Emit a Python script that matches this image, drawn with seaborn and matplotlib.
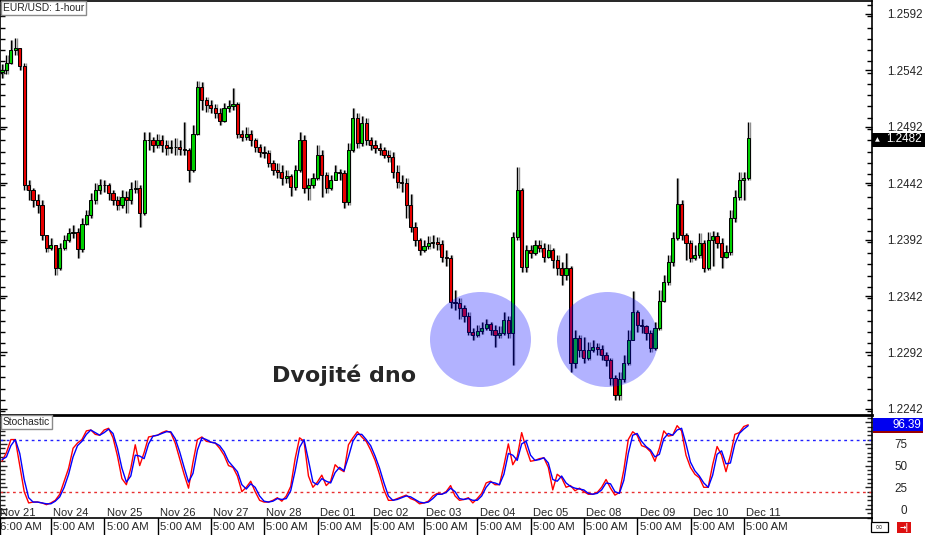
import numpy as np
import pandas as pd
import matplotlib
matplotlib.use("Agg")
import matplotlib.pyplot as plt
import seaborn as sns
from matplotlib.patches import Ellipse, Rectangle
from matplotlib.lines import Line2D
from matplotlib.ticker import MultipleLocator
from matplotlib.transforms import blended_transform_factory

# ---------------- data (EUR/USD) ----------------
first_open = 1.2541
closes = [1.2542, 1.2549, 1.2560, 1.2562, 1.2546, 1.2440, 1.2436, 1.2427, 1.2423, 1.2396,
          1.2385, 1.2387, 1.2367, 1.2385, 1.2392, 1.2398, 1.2399, 1.2384, 1.2406, 1.2414,
          1.2427, 1.2436, 1.2440, 1.2440, 1.2433, 1.2427, 1.2423, 1.2430, 1.2427, 1.2437,
          1.2438, 1.2416, 1.2480, 1.2480, 1.2476, 1.2480, 1.2476, 1.2473, 1.2474, 1.2474,
          1.2472, 1.2471, 1.2454, 1.2486, 1.2527, 1.2516, 1.2511, 1.2509, 1.2504, 1.2497,
          1.2509, 1.2510, 1.2512, 1.2486, 1.2483, 1.2486, 1.2480, 1.2474, 1.2470, 1.2469,
          1.2460, 1.2454, 1.2452, 1.2447, 1.2448, 1.2439, 1.2454, 1.2480, 1.2438, 1.2440,
          1.2447, 1.2467, 1.2449, 1.2438, 1.2445, 1.2452, 1.2451, 1.2425, 1.2471, 1.2500,
          1.2478, 1.2495, 1.2480, 1.2476, 1.2473, 1.2471, 1.2467, 1.2465, 1.2452, 1.2443,
          1.2442, 1.2423, 1.2403, 1.2392, 1.2383, 1.2386, 1.2389, 1.2390, 1.2388, 1.2377,
          1.2376, 1.2337, 1.2336, 1.2331, 1.2324, 1.2310, 1.2307, 1.2311, 1.2314, 1.2317,
          1.2312, 1.2307, 1.2309, 1.2321, 1.2309, 1.2394, 1.2436, 1.2368, 1.2383, 1.2380,
          1.2387, 1.2385, 1.2377, 1.2383, 1.2374, 1.2367, 1.2361, 1.2367, 1.2283, 1.2305,
          1.2294, 1.2287, 1.2294, 1.2297, 1.2295, 1.2290, 1.2285, 1.2269, 1.2254, 1.2268,
          1.2283, 1.2303, 1.2328, 1.2316, 1.2315, 1.2309, 1.2296, 1.2314, 1.2338, 1.2354,
          1.2372, 1.2393, 1.2424, 1.2396, 1.2389, 1.2376, 1.2378, 1.2389, 1.2367, 1.2392,
          1.2395, 1.2389, 1.2377, 1.2381, 1.2411, 1.2430, 1.2445, 1.2447, 1.2482]
highs = [1.2548, 1.2556, 1.2569, 1.2571, 1.2556, 1.2549, 1.2445, 1.2438, 1.2432, 1.2427,
         1.2396, 1.2393, 1.2387, 1.2389, 1.2396, 1.2402, 1.2405, 1.2402, 1.2411, 1.2418,
         1.2433, 1.2442, 1.2446, 1.2445, 1.2442, 1.2436, 1.2431, 1.2436, 1.2435, 1.2443,
         1.2445, 1.2440, 1.2487, 1.2487, 1.2483, 1.2486, 1.2485, 1.2480, 1.2480, 1.2482,
         1.2480, 1.2496, 1.2473, 1.2494, 1.2533, 1.2532, 1.2518, 1.2516, 1.2512, 1.2509,
         1.2513, 1.2516, 1.2526, 1.2514, 1.2489, 1.2492, 1.2489, 1.2482, 1.2477, 1.2475,
         1.2471, 1.2463, 1.2460, 1.2458, 1.2454, 1.2450, 1.2458, 1.2487, 1.2485, 1.2447,
         1.2451, 1.2476, 1.2471, 1.2452, 1.2449, 1.2458, 1.2455, 1.2454, 1.2478, 1.2509,
         1.2504, 1.2502, 1.2500, 1.2483, 1.2480, 1.2478, 1.2474, 1.2471, 1.2470, 1.2458,
         1.2449, 1.2447, 1.2432, 1.2408, 1.2393, 1.2392, 1.2395, 1.2396, 1.2394, 1.2392,
         1.2383, 1.2378, 1.2347, 1.2340, 1.2334, 1.2328, 1.2314, 1.2316, 1.2319, 1.2322,
         1.2319, 1.2316, 1.2315, 1.2328, 1.2324, 1.2399, 1.2456, 1.2438, 1.2387, 1.2387,
         1.2392, 1.2392, 1.2389, 1.2388, 1.2385, 1.2378, 1.2372, 1.2380, 1.2369, 1.2312,
         1.2307, 1.2306, 1.2301, 1.2303, 1.2300, 1.2299, 1.2292, 1.2287, 1.2272, 1.2275,
         1.2290, 1.2312, 1.2346, 1.2330, 1.2322, 1.2316, 1.2312, 1.2319, 1.2347, 1.2361,
         1.2378, 1.2399, 1.2447, 1.2427, 1.2398, 1.2392, 1.2387, 1.2398, 1.2392, 1.2399,
         1.2400, 1.2399, 1.2393, 1.2387, 1.2418, 1.2436, 1.2452, 1.2452, 1.2496]
lows = [1.2535, 1.2539, 1.2548, 1.2556, 1.2542, 1.2436, 1.2427, 1.2421, 1.2416, 1.2392,
        1.2381, 1.2383, 1.2361, 1.2365, 1.2383, 1.2390, 1.2393, 1.2376, 1.2381, 1.2405,
        1.2411, 1.2424, 1.2432, 1.2434, 1.2427, 1.2423, 1.2418, 1.2420, 1.2416, 1.2424,
        1.2433, 1.2403, 1.2414, 1.2471, 1.2470, 1.2473, 1.2470, 1.2467, 1.2469, 1.2467,
        1.2467, 1.2467, 1.2443, 1.2452, 1.2485, 1.2507, 1.2505, 1.2504, 1.2500, 1.2494,
        1.2496, 1.2505, 1.2507, 1.2482, 1.2479, 1.2480, 1.2475, 1.2470, 1.2465, 1.2464,
        1.2456, 1.2449, 1.2447, 1.2440, 1.2442, 1.2431, 1.2436, 1.2452, 1.2433, 1.2427,
        1.2438, 1.2445, 1.2430, 1.2433, 1.2436, 1.2445, 1.2445, 1.2420, 1.2423, 1.2470,
        1.2473, 1.2475, 1.2476, 1.2471, 1.2469, 1.2467, 1.2464, 1.2461, 1.2447, 1.2438,
        1.2434, 1.2411, 1.2399, 1.2386, 1.2378, 1.2381, 1.2384, 1.2385, 1.2383, 1.2372,
        1.2369, 1.2331, 1.2330, 1.2322, 1.2319, 1.2307, 1.2303, 1.2306, 1.2308, 1.2312,
        1.2307, 1.2297, 1.2305, 1.2307, 1.2305, 1.2281, 1.2392, 1.2363, 1.2363, 1.2376,
        1.2378, 1.2381, 1.2372, 1.2376, 1.2367, 1.2361, 1.2352, 1.2356, 1.2275, 1.2278,
        1.2288, 1.2283, 1.2285, 1.2292, 1.2290, 1.2285, 1.2280, 1.2263, 1.2250, 1.2250,
        1.2266, 1.2281, 1.2303, 1.2310, 1.2309, 1.2303, 1.2292, 1.2294, 1.2312, 1.2337,
        1.2352, 1.2369, 1.2392, 1.2392, 1.2374, 1.2372, 1.2374, 1.2376, 1.2363, 1.2365,
        1.2369, 1.2385, 1.2367, 1.2376, 1.2378, 1.2408, 1.2427, 1.2427, 1.2445]

stoch_k = [55, 65, 80, 80, 50, 20, 7, 8, 8, 7, 5, 7, 10, 17, 32, 47, 70, 76, 80, 90,
           91, 86, 85, 91, 93, 82, 61, 35, 28, 47, 74, 50, 65, 83, 84, 85, 88, 90, 88, 76,
           58, 40, 24, 54, 80, 83, 78, 77, 76, 70, 62, 50, 48, 38, 20, 25, 32, 20, 10, 8,
           8, 10, 13, 9, 15, 26, 58, 82, 78, 38, 25, 31, 39, 27, 32, 51, 46, 43, 74, 82,
           89, 83, 78, 68, 56, 40, 22, 10, 10, 12, 14, 16, 12, 10, 6, 7, 9, 15, 18, 17,
           20, 27, 15, 10, 11, 13, 7, 12, 18, 30, 32, 28, 28, 50, 75, 51, 60, 88, 70, 55,
           56, 58, 59, 48, 22, 40, 36, 25, 27, 21, 24, 20, 17, 17, 19, 25, 34, 24, 16, 19,
           45, 80, 89, 85, 73, 71, 66, 55, 70, 90, 84, 85, 96, 90, 62, 48, 40, 36, 25, 25,
           51, 72, 62, 43, 62, 86, 88, 95, 97]
stoch_d = [57, 60, 73, 80, 64, 34, 13, 8, 8, 7, 6, 6, 9, 14, 25, 40, 60, 73, 78, 86,
           91, 88, 85, 88, 92, 87, 70, 47, 31, 38, 62, 61, 58, 75, 84, 85, 87, 89, 89, 81,
           66, 48, 31, 41, 68, 82, 80, 77, 76, 73, 66, 55, 49, 43, 28, 23, 29, 25, 15, 9,
           8, 9, 12, 11, 12, 21, 44, 71, 80, 56, 31, 28, 35, 32, 30, 42, 48, 44, 60, 78,
           86, 86, 80, 73, 61, 47, 30, 15, 10, 11, 13, 15, 14, 11, 8, 7, 8, 12, 17, 17,
           19, 24, 20, 12, 11, 12, 10, 10, 15, 25, 31, 30, 28, 40, 64, 62, 56, 75, 78, 62,
           56, 57, 59, 53, 34, 32, 38, 30, 26, 24, 23, 22, 18, 17, 18, 22, 30, 29, 20, 18,
           33, 64, 85, 87, 78, 72, 68, 60, 63, 81, 87, 85, 91, 93, 75, 54, 44, 38, 30, 25,
           39, 63, 67, 52, 53, 75, 87, 92, 96]

price_ticks = [1.2242, 1.2292, 1.2342, 1.2392, 1.2442, 1.2492, 1.2542, 1.2592]
price_labels = ["1.2242", "1.2292", "1.2342", "1.2392", "1.2442", "1.2492", "1.2542", "1.2592"]
stoch_ticks = [0, 25, 50, 75, 100]
stoch_labels = ["0", "25", "50", "75", ""]
date_labels = ["Nov 21", "Nov 24", "Nov 25", "Nov 26", "Nov 27", "Nov 28", "Dec 01", "Dec 02",
               "Dec 03", "Dec 04", "Dec 05", "Dec 08", "Dec 09", "Dec 10", "Dec 11"]
time_labels = ["6:00 AM"] + ["5:00 AM"] * 14
bars_per_day = 12
last_price = "1.2482"
last_stoch = "96.39"

# ---------------- figure ----------------
sns.set_style("white")
plt.rcParams['font.family'] = ['Liberation Sans', 'DejaVu Sans']

W, H = 925, 535
fig = plt.figure(figsize=(W / 100, H / 100), dpi=100)


def fr(x0, y0, x1, y1):
    return [x0 / W, 1 - y1 / H, (x1 - x0) / W, (y1 - y0) / H]


ax = fig.add_axes(fr(0, 1, 872, 414))
axs = fig.add_axes(fr(0, 415, 872, 518))

n = len(closes)
idx = np.arange(n)
c = np.array(closes)
o = np.array([first_open] + closes[:-1])
hi = np.maximum(np.array(highs), np.maximum(o, c))
lo = np.minimum(np.array(lows), np.minimum(o, c))
df = pd.DataFrame({"i": idx, "open": o, "close": c, "high": hi, "low": lo,
                   "k": stoch_k, "d": stoch_d})
df["up"] = df["close"] >= df["open"]

# wicks (grey shadow + black)
ax.vlines(df["i"] + 0.3, df["low"], df["high"], color="#8f8f8f", lw=1.0, zorder=1)
ax.vlines(df["i"], df["low"], df["high"], color="black", lw=1.0, zorder=2)
body_bottom = np.minimum(df["open"], df["close"])
body_h = np.maximum(np.abs(df["close"] - df["open"]), 0.00005)
colors = np.where(df["up"], "#00d000", "#e80000")
ax.bar(df["i"], body_h, bottom=body_bottom, width=0.72, color=colors,
       edgecolor="black", linewidth=0.7, zorder=3)

x_left = -2 / 4.4416
x_right = 870 / 4.4416
ax.set_xlim(x_left, x_right)
ax.set_ylim(1.2592 - 400 * 8.865e-5, 1.2592 + 13 * 8.865e-5)
ax.set_xticks([])
ax.yaxis.tick_right()
ax.set_yticks(price_ticks)
ax.set_yticklabels(price_labels)
ax.yaxis.set_minor_locator(MultipleLocator(0.001))
ax.tick_params(axis="y", which="both", direction="in", left=True, right=True,
               labelleft=False, labelright=True, color="black", width=1,
               pad=11, labelsize=8.4)
ax.tick_params(axis="y", which="major", length=5)
ax.tick_params(axis="y", which="minor", length=3.5)
for s in ["top", "right", "left"]:
    ax.spines[s].set_visible(True)
    ax.spines[s].set_color("black")
    ax.spines[s].set_linewidth(1.2)
ax.spines["bottom"].set_visible(False)
ax.set_ylabel("")

# stochastic
sns.lineplot(data=df, x="i", y="k", color="#ff0000", lw=1.0, ax=axs, zorder=3)
sns.lineplot(data=df, x="i", y="d", color="#0000ff", lw=1.0, ax=axs, zorder=4)
axs.axhline(80, color="#2020ff", ls=(0, (2, 2.5)), lw=1.0, zorder=2)
axs.axhline(20, color="#e83030", ls=(0, (2, 2.5)), lw=1.0, zorder=2)
axs.set_xlim(x_left, x_right)
axs.set_ylim((509 - 518) / 0.868, (509 - 415) / 0.868)
axs.set_xticks([])
axs.set_xlabel("")
axs.set_ylabel("")
axs.yaxis.tick_right()
axs.set_yticks(stoch_ticks)
axs.set_yticklabels(stoch_labels)
axs.yaxis.set_minor_locator(MultipleLocator(5))
axs.tick_params(axis="y", which="both", direction="in", left=True, right=True,
                labelleft=False, labelright=True, width=1, pad=25.5, labelsize=8.4)
axs.tick_params(axis="y", which="major", length=5)
axs.tick_params(axis="y", which="minor", length=3.5)
for lbl in axs.get_yticklabels():
    lbl.set_ha("right")
for s in ["top", "right", "left", "bottom"]:
    axs.spines[s].set_visible(True)
    axs.spines[s].set_color("black")
    axs.spines[s].set_linewidth(1.2)
axs.spines["top"].set_linewidth(2.0)

# date labels and time row
tr = blended_transform_factory(axs.transData, fig.transFigure)
for d, (dl, tl) in enumerate(zip(date_labels, time_labels)):
    xk = bars_per_day * d - 0.45
    axs.text(xk, 1 - 513.5 / H, dl, transform=tr, fontsize=8, va="center", ha="left",
             clip_on=False)
    axs.text(xk, 1 - 527.5 / H, tl, transform=tr, fontsize=8.2, va="center", ha="left",
             clip_on=False)
    xd = bars_per_day * d - 0.95 if d > 0 else x_left + 0.1
    fig.add_artist(Line2D([xd, xd], [1 - 518 / H, 0], transform=tr, color="black", lw=1))
fig.add_artist(Line2D([872 / W, 872 / W], [1 - 518 / H, 1 - 522 / H],
                      transform=fig.transFigure, color="black", lw=1.2))

# chart title boxes
fig.text(3 / W, 1 - 8 / H, "EUR/USD: 1-hour", fontsize=7.4, va="center", ha="left",
         bbox=dict(boxstyle="square,pad=0.18", fc="white", ec="#8a8a8a", lw=1.0), zorder=10)
fig.text(3 / W, 1 - 422 / H, "Stochastic", fontsize=7.4, va="center", ha="left",
         bbox=dict(boxstyle="square,pad=0.18", fc="white", ec="#8a8a8a", lw=1.0), zorder=10)

# double-bottom circles
for cx in (480.5, 607.5):
    fig.add_artist(Ellipse((cx / W, 1 - 339.5 / H), 101 / W, 95 / H, transform=fig.transFigure,
                           facecolor=(0, 0, 1, 0.3), edgecolor="none", zorder=5))
fig.text(272 / W, 1 - 382 / H, "Dvojité dno", fontsize=16, fontweight="bold",
         family="DejaVu Sans", va="baseline", ha="left", zorder=6)

# current price box
fig.add_artist(Rectangle((872 / W, 1 - 146.5 / H), 53 / W, 13.5 / H, transform=fig.transFigure,
                         facecolor="black", edgecolor="none", zorder=8))
fig.text(922 / W, 1 - 139.5 / H, last_price, color="white", fontsize=8.4, ha="right",
         va="center", zorder=9)
fig.text(875 / W, 1 - 139.5 / H, "▲", color="white", fontsize=4.5, ha="left", va="center",
         family="DejaVu Sans", zorder=9)

# current stochastic box
fig.add_artist(Rectangle((873 / W, 1 - 431 / H), 50 / W, 13.5 / H, transform=fig.transFigure,
                         facecolor="#0000f0", edgecolor="none", zorder=8))
fig.add_artist(Rectangle((873 / W, 1 - 433 / H), 50 / W, 2 / H, transform=fig.transFigure,
                         facecolor="#9a0000", edgecolor="none", zorder=8))
fig.text(921 / W, 1 - 424.5 / H, last_stoch, color="white", fontsize=8.4, ha="right",
         va="center", zorder=9)

# small icons bottom-right
fig.add_artist(Rectangle((871 / W, 1 - 532 / H), 17 / W, 10 / H, transform=fig.transFigure,
                         facecolor="white", edgecolor="black", lw=0.9, zorder=8))
fig.text(879.5 / W, 1 - 527 / H, "∞", color="#555555", fontsize=7, ha="center", va="center",
         family="DejaVu Sans", zorder=9)
fig.add_artist(Rectangle((897 / W, 1 - 533 / H), 14 / W, 11 / H, transform=fig.transFigure,
                         facecolor="#dd1010", edgecolor="none", zorder=8))
fig.text(904 / W, 1 - 527.5 / H, "→|", color="white", fontsize=5.5, fontweight="bold",
         ha="center", va="center", family="DejaVu Sans", zorder=9)

fig.savefig("out.png", dpi=100)
